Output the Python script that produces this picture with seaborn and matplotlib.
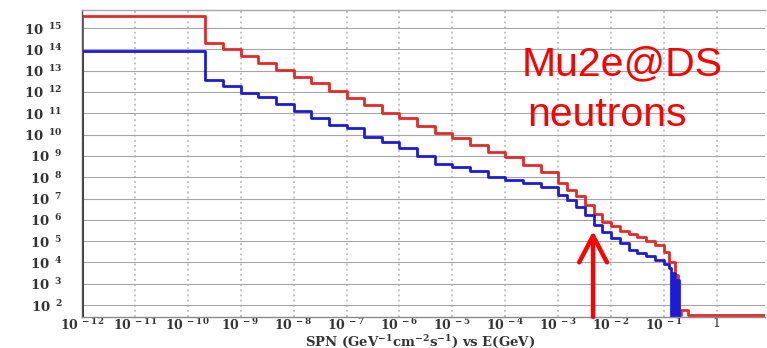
import numpy as np
import pandas as pd
import matplotlib
matplotlib.use("Agg")
import matplotlib.pyplot as plt
import matplotlib.ticker as mticker
import seaborn as sns

# Energy bin edges (log10 of E in GeV) shared by both spectra up to 10^-0.9 GeV
edge_exp = [-12, -9.67, -9.33, -9, -8.67, -8.33, -8, -7.67, -7.33, -7,
            -6.67, -6.33, -6, -5.67, -5.33, -5, -4.67, -4.33, -4, -3.67,
            -3.33, -3, -2.83, -2.67, -2.5, -2.33, -2.17, -2, -1.83, -1.67,
            -1.5, -1.33, -1.17, -1, -0.9]

# Flux per bin (log10 of GeV^-1 cm^-2 s^-1)
red_exp = [15.57, 14.30, 14.00, 13.67, 13.36, 13.03, 12.70, 12.42, 12.05, 11.72,
           11.39, 11.01, 10.78, 10.40, 10.08, 9.84, 9.51, 9.18, 8.95, 8.57,
           8.24, 7.73, 7.40, 7.12, 6.69, 6.27, 5.90, 5.71, 5.47, 5.33,
           5.19, 5.00, 4.82, 4.49]
blue_exp = [13.92, 12.56, 12.26, 11.95, 11.77, 11.44, 11.11, 10.78, 10.45, 10.29,
            9.89, 9.65, 9.37, 9.00, 8.62, 8.48, 8.29, 8.01, 7.87, 7.73,
            7.54, 7.16, 6.93, 6.60, 6.23, 5.76, 5.43, 5.15, 4.91, 4.58,
            4.44, 4.30, 4.11, 3.92]

# High-energy tails near the cutoff
red_tail_edges = [-0.8, -0.74, -0.68, -0.55, 1.0]
red_tail_exp = [4.00, 3.40, 1.53, 1.77, 1.53]
blue_tail_edges = [-0.86, -0.83, -0.79, -0.76, -0.72, 1.0]
blue_tail_exp = [3.75, 1.00, 3.50, 1.00, 3.20, 0.50]

x_tick_exp = list(range(-12, 1))
y_tick_exp = list(range(2, 16))

arrow_e_exp = -2.34
arrow_tip_exp = 5.47
x_lim_exp = (-12, 0.91)
y_lim_exp = (1.44, 15.85)


def step_frame(edges, vals, name):
    e = [10.0 ** v for v in edges]
    f = [10.0 ** v for v in vals]
    x = [e[0]] + e
    y = [1e-3] + f + [f[-1]]
    return pd.DataFrame({"E": x, "flux": y, "series": name})


red_df = step_frame(edge_exp + red_tail_edges, red_exp + red_tail_exp, "red")
blue_df = step_frame(edge_exp + blue_tail_edges, blue_exp + blue_tail_exp, "blue")
df = pd.concat([red_df, blue_df], ignore_index=True)

sns.set_theme(style="white")
plt.rcParams.update({
    "mathtext.fontset": "dejavuserif",
    "mathtext.default": "bf",
    "font.family": ["DejaVu Serif"],
})

fig = plt.figure(figsize=(7.67, 3.48), dpi=100)
ax = fig.add_axes([82 / 767, 31 / 348, 683 / 767, 307 / 348])

sns.lineplot(data=df, x="E", y="flux", hue="series", hue_order=["red", "blue"],
             palette={"red": "#e32a2a", "blue": "#1c1cd6"}, estimator=None,
             sort=False, drawstyle="steps-post", linewidth=2.0, legend=False, ax=ax)

ax.set_xscale("log")
ax.set_yscale("log")
ax.set_xlim(10 ** x_lim_exp[0], 10 ** x_lim_exp[1])
ax.set_ylim(10 ** y_lim_exp[0], 10 ** y_lim_exp[1])

ax.xaxis.set_major_locator(mticker.FixedLocator([10.0 ** k for k in x_tick_exp]))
ax.yaxis.set_major_locator(mticker.FixedLocator([10.0 ** k for k in y_tick_exp]))
ax.xaxis.set_minor_locator(mticker.LogLocator(base=10, subs=np.arange(2, 10), numticks=40))
ax.yaxis.set_minor_locator(mticker.LogLocator(base=10, subs=np.arange(2, 10), numticks=40))


def xfmt(v, pos):
    k = int(round(np.log10(v)))
    return "1" if k == 0 else r"$10^{\ %d}$" % k


def yfmt(v, pos):
    k = int(round(np.log10(v)))
    return r"$10^{\ \ %d}$" % k


ax.xaxis.set_major_formatter(mticker.FuncFormatter(xfmt))
ax.yaxis.set_major_formatter(mticker.FuncFormatter(yfmt))
ax.xaxis.set_minor_formatter(mticker.NullFormatter())
ax.yaxis.set_minor_formatter(mticker.NullFormatter())

ax.tick_params(axis="both", which="major", direction="in", length=7, width=0.8,
               color="#555555", labelsize=9.5, labelcolor="#333333")
ax.tick_params(axis="x", which="major", labelsize=9, pad=0)
ax.tick_params(axis="y", which="major", pad=14)
ax.tick_params(axis="both", which="minor", direction="in", length=3.5, width=0.6,
               color="#555555")

ax.grid(True, which="major", axis="y", color="#a5a5a5", linewidth=0.8)
ax.grid(True, which="major", axis="x", color="#c4c4c4", linewidth=1.4, linestyle=":")
ax.set_axisbelow(True)

ax.spines["right"].set_visible(False)
ax.spines["left"].set_color("#555555")
ax.spines["bottom"].set_color("#8a8a8a")
ax.spines["top"].set_color("#a8a8a8")
for s in ("left", "bottom", "top"):
    ax.spines[s].set_linewidth(1.0)

ax.set_xlabel("")
ax.set_ylabel("")
fig.text(420 / 767, 1 - 345.5 / 348, r"SPN (GeV$^{-1}$cm$^{-2}$s$^{-1}$) vs E(GeV)",
         fontsize=9.5, fontweight="bold", color="#333333", ha="center", va="baseline")

ax.annotate("", xy=(10 ** arrow_e_exp, 10 ** arrow_tip_exp),
            xytext=(10 ** arrow_e_exp, 10 ** y_lim_exp[0]),
            arrowprops=dict(arrowstyle="->,head_length=0.95,head_width=0.5",
                            color="#ff0000", lw=3.2, mutation_scale=20,
                            shrinkA=0, shrinkB=0), annotation_clip=False)

fig.text(522 / 767, 1 - 75 / 348, "Mu2e@DS", color="#ff0000", fontsize=29.5,
         family="Liberation Sans", ha="left", va="baseline")
fig.text(527 / 767, 1 - 126 / 348, "neutrons", color="#ff0000", fontsize=29.5,
         family="Liberation Sans", ha="left", va="baseline")

fig.savefig("out.png", dpi=100)
